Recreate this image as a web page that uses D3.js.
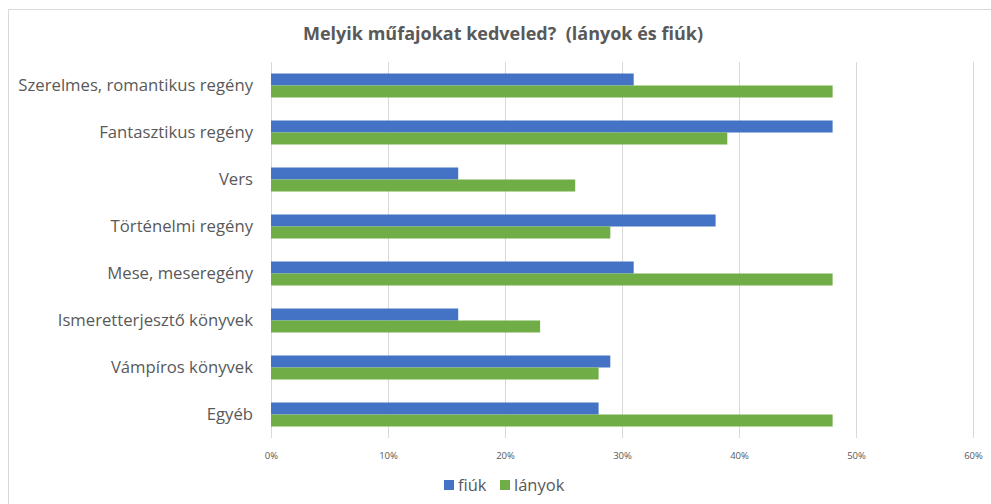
<!DOCTYPE html>
<html>
<head>
<meta charset="utf-8">
<script src="https://cdn.jsdelivr.net/npm/d3@7"></script>
<style>
  body { margin: 0; background: #fff; }
  text { font-family: "Open Sans", "Liberation Sans", sans-serif; }
</style>
</head>
<body>
<div id="chart"></div>
<script>
var categories = ["Szerelmes, romantikus regény", "Fantasztikus regény", "Vers", "Történelmi regény",
  "Mese, meseregény", "Ismeretterjesztő könyvek", "Vámpíros könyvek", "Egyéb"];
var fiuk   = [31, 48, 16, 38, 31, 16, 29, 28];
var lanyok = [48, 39, 26, 29, 48, 23, 28, 48];
var seriesNames = ["fiúk", "lányok"];
var ticks = [0, 10, 20, 30, 40, 50, 60];

var width = 991, height = 504;
var colors = ["#4472C4", "#70AD47"];

var svg = d3.select("#chart").append("svg")
  .attr("width", width).attr("height", height);

// chart frame (runs off right and bottom)
svg.append("rect")
  .attr("x", 8.5).attr("y", 9.5)
  .attr("width", 1000).attr("height", 600)
  .attr("fill", "none").attr("stroke", "#d9d9d9");

var x = d3.scaleLinear().domain([0, 60]).range([271, 973]);
var y = d3.scaleBand().domain(categories).range([62, 438]);
var inner = d3.scaleBand().domain(seriesNames).range([0, 24]);

svg.append("text")
  .attr("x", 503).attr("y", 40)
  .attr("text-anchor", "middle")
  .attr("font-size", 18).attr("font-weight", "bold")
  .attr("fill", "#595959")
  .style("white-space", "pre")
  .text("Melyik műfajokat kedveled?  (lányok és fiúk)");

// gridlines
svg.append("g").selectAll("line")
  .data(ticks).enter().append("line")
  .attr("x1", function(d) { return Math.round(x(d)) + 0.5; })
  .attr("x2", function(d) { return Math.round(x(d)) + 0.5; })
  .attr("y1", 62).attr("y2", 438)
  .attr("stroke", "#d9d9d9");

var rows = categories.map(function(c, i) {
  return { cat: c, vals: [fiuk[i], lanyok[i]] };
});

var groups = svg.append("g").selectAll("g")
  .data(rows).enter().append("g")
  .attr("transform", function(d) {
    return "translate(0," + (y(d.cat) + y.bandwidth() / 2 - 12) + ")";
  });

groups.selectAll("rect")
  .data(function(d) { return d.vals.map(function(v, i) { return { name: seriesNames[i], v: v, i: i }; }); })
  .enter().append("rect")
  .attr("x", x(0))
  .attr("y", function(d) { return inner(d.name); })
  .attr("width", function(d) { return x(d.v) - x(0); })
  .attr("height", inner.bandwidth())
  .attr("fill", function(d) { return colors[d.i]; });

// category labels
svg.append("g").selectAll("text")
  .data(categories).enter().append("text")
  .attr("x", 253)
  .attr("y", function(d) { return y(d) + y.bandwidth() / 2; })
  .attr("dy", "0.35em")
  .attr("text-anchor", "end")
  .attr("font-size", 16.7)
  .attr("fill", "#595959")
  .text(function(d) { return d; });

// x axis tick labels
var xAxis = d3.axisBottom(x).tickValues(ticks)
  .tickFormat(function(d) { return d + "%"; })
  .tickSize(0).tickPadding(0);
var ax = svg.append("g").attr("transform", "translate(0,452)").call(xAxis);
ax.select(".domain").remove();
ax.selectAll("text").attr("font-size", 9.5).attr("fill", "#595959")
  .attr("font-family", "'Open Sans', sans-serif");

// legend
var legend = svg.append("g").attr("transform", "translate(444,480)");
var lx = [0, 56];
seriesNames.forEach(function(n, i) {
  legend.append("rect").attr("x", lx[i]).attr("y", 0)
    .attr("width", 10).attr("height", 10).attr("fill", colors[i]);
  legend.append("text").attr("x", lx[i] + 14).attr("y", 11)
    .attr("font-size", 16.5).attr("fill", "#595959").text(n);
});
</script>
</body>
</html>
